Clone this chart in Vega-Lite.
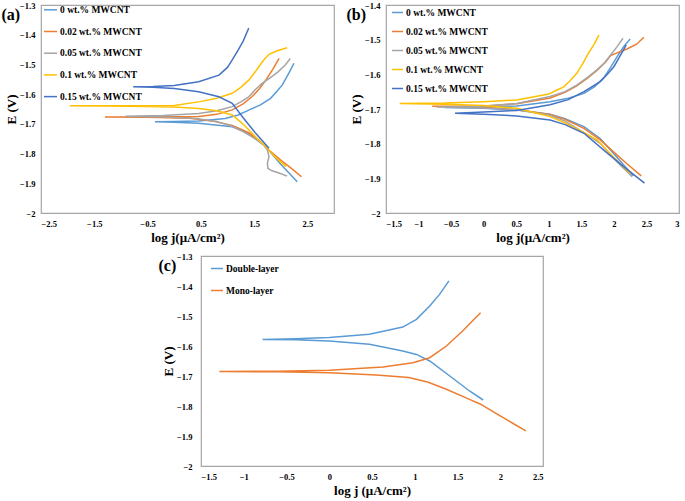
{
  "$schema": "https://vega.github.io/schema/vega-lite/v6.json",
  "padding": {"left": 0, "top": 0, "right": 0, "bottom": 0},
  "background": "white",
  "spacing": 5,
  "config": {
    "view": {"stroke": "#a6a6a6", "strokeWidth": 1.2},
    "axis": {"domain": false, "ticks": false, "grid": false, "labelFont": "Liberation Serif", "labelFontWeight": "bold", "labelFontSize": 8.5, "labelColor": "#000", "titleFont": "Liberation Serif", "titleFontWeight": "bold", "titleFontSize": 13, "titleColor": "#000", "format": ".1~f"},
    "axisX": {"labelPadding": 6, "titlePadding": 4},
    "axisY": {"labelPadding": 6, "titlePadding": 1},
    "legend": {"orient": "none", "symbolType": "stroke", "symbolStrokeWidth": 1.6, "labelFont": "Liberation Serif", "labelFontWeight": "bold", "labelFontSize": 9.5, "labelColor": "#000", "labelOffset": 2, "padding": 0, "labelLimit": 300},
    "title": {"font": "Liberation Serif", "fontWeight": "bold", "fontSize": 16, "anchor": "start", "frame": "bounds", "color": "#000"},
    "line": {"strokeWidth": 1.5}
  },
  "datasets": {
    "a": [
      {"s": "0 wt.% MWCNT", "i": 1, "x": 2.31, "y": -1.895},
      {"s": "0 wt.% MWCNT", "i": 2, "x": 2.0, "y": -1.836},
      {"s": "0 wt.% MWCNT", "i": 3, "x": 1.72, "y": -1.777},
      {"s": "0 wt.% MWCNT", "i": 4, "x": 1.4, "y": -1.732},
      {"s": "0 wt.% MWCNT", "i": 5, "x": 1.09, "y": -1.71},
      {"s": "0 wt.% MWCNT", "i": 6, "x": 0.46, "y": -1.698},
      {"s": "0 wt.% MWCNT", "i": 7, "x": 0.0, "y": -1.695},
      {"s": "0 wt.% MWCNT", "i": 8, "x": -0.36, "y": -1.693},
      {"s": "0 wt.% MWCNT", "i": 9, "x": 0.0, "y": -1.692},
      {"s": "0 wt.% MWCNT", "i": 10, "x": 0.46, "y": -1.69},
      {"s": "0 wt.% MWCNT", "i": 11, "x": 0.96, "y": -1.682},
      {"s": "0 wt.% MWCNT", "i": 12, "x": 1.2, "y": -1.67},
      {"s": "0 wt.% MWCNT", "i": 13, "x": 1.4, "y": -1.654},
      {"s": "0 wt.% MWCNT", "i": 14, "x": 1.62, "y": -1.636},
      {"s": "0 wt.% MWCNT", "i": 15, "x": 1.81, "y": -1.614},
      {"s": "0 wt.% MWCNT", "i": 16, "x": 1.93, "y": -1.59},
      {"s": "0 wt.% MWCNT", "i": 17, "x": 2.03, "y": -1.569},
      {"s": "0 wt.% MWCNT", "i": 18, "x": 2.15, "y": -1.53},
      {"s": "0 wt.% MWCNT", "i": 19, "x": 2.25, "y": -1.496},

      {"s": "0.02 wt.% MWCNT", "i": 1, "x": 2.39, "y": -1.878},
      {"s": "0.02 wt.% MWCNT", "i": 2, "x": 2.2, "y": -1.85},
      {"s": "0.02 wt.% MWCNT", "i": 3, "x": 2.0, "y": -1.822},
      {"s": "0.02 wt.% MWCNT", "i": 4, "x": 1.8, "y": -1.792},
      {"s": "0.02 wt.% MWCNT", "i": 5, "x": 1.59, "y": -1.755},
      {"s": "0.02 wt.% MWCNT", "i": 6, "x": 1.4, "y": -1.73},
      {"s": "0.02 wt.% MWCNT", "i": 7, "x": 1.09, "y": -1.705},
      {"s": "0.02 wt.% MWCNT", "i": 8, "x": 0.7, "y": -1.69},
      {"s": "0.02 wt.% MWCNT", "i": 9, "x": 0.3, "y": -1.681},
      {"s": "0.02 wt.% MWCNT", "i": 10, "x": -0.5, "y": -1.678},
      {"s": "0.02 wt.% MWCNT", "i": 11, "x": -1.3, "y": -1.677},
      {"s": "0.02 wt.% MWCNT", "i": 12, "x": -0.5, "y": -1.677},
      {"s": "0.02 wt.% MWCNT", "i": 13, "x": 0.46, "y": -1.675},
      {"s": "0.02 wt.% MWCNT", "i": 14, "x": 0.8, "y": -1.668},
      {"s": "0.02 wt.% MWCNT", "i": 15, "x": 1.09, "y": -1.653},
      {"s": "0.02 wt.% MWCNT", "i": 16, "x": 1.3, "y": -1.632},
      {"s": "0.02 wt.% MWCNT", "i": 17, "x": 1.46, "y": -1.609},
      {"s": "0.02 wt.% MWCNT", "i": 18, "x": 1.6, "y": -1.582},
      {"s": "0.02 wt.% MWCNT", "i": 19, "x": 1.72, "y": -1.553},
      {"s": "0.02 wt.% MWCNT", "i": 20, "x": 1.85, "y": -1.517},
      {"s": "0.02 wt.% MWCNT", "i": 21, "x": 1.97, "y": -1.48},

      {"s": "0.05 wt.% MWCNT", "i": 1, "x": 2.12, "y": -1.876},
      {"s": "0.05 wt.% MWCNT", "i": 2, "x": 1.98, "y": -1.866},
      {"s": "0.05 wt.% MWCNT", "i": 3, "x": 1.84, "y": -1.858},
      {"s": "0.05 wt.% MWCNT", "i": 4, "x": 1.76, "y": -1.85},
      {"s": "0.05 wt.% MWCNT", "i": 5, "x": 1.75, "y": -1.833},
      {"s": "0.05 wt.% MWCNT", "i": 6, "x": 1.78, "y": -1.81},
      {"s": "0.05 wt.% MWCNT", "i": 7, "x": 1.75, "y": -1.788},
      {"s": "0.05 wt.% MWCNT", "i": 8, "x": 1.68, "y": -1.771},
      {"s": "0.05 wt.% MWCNT", "i": 9, "x": 1.5, "y": -1.748},
      {"s": "0.05 wt.% MWCNT", "i": 10, "x": 1.3, "y": -1.727},
      {"s": "0.05 wt.% MWCNT", "i": 11, "x": 1.09, "y": -1.708},
      {"s": "0.05 wt.% MWCNT", "i": 12, "x": 0.8, "y": -1.692},
      {"s": "0.05 wt.% MWCNT", "i": 13, "x": 0.4, "y": -1.682},
      {"s": "0.05 wt.% MWCNT", "i": 14, "x": -0.2, "y": -1.677},
      {"s": "0.05 wt.% MWCNT", "i": 15, "x": -0.92, "y": -1.674},
      {"s": "0.05 wt.% MWCNT", "i": 16, "x": -0.2, "y": -1.672},
      {"s": "0.05 wt.% MWCNT", "i": 17, "x": 0.46, "y": -1.665},
      {"s": "0.05 wt.% MWCNT", "i": 18, "x": 0.8, "y": -1.656},
      {"s": "0.05 wt.% MWCNT", "i": 19, "x": 1.09, "y": -1.642},
      {"s": "0.05 wt.% MWCNT", "i": 20, "x": 1.25, "y": -1.626},
      {"s": "0.05 wt.% MWCNT", "i": 21, "x": 1.4, "y": -1.609},
      {"s": "0.05 wt.% MWCNT", "i": 22, "x": 1.52, "y": -1.585},
      {"s": "0.05 wt.% MWCNT", "i": 23, "x": 1.65, "y": -1.564},
      {"s": "0.05 wt.% MWCNT", "i": 24, "x": 1.8, "y": -1.545},
      {"s": "0.05 wt.% MWCNT", "i": 25, "x": 1.95, "y": -1.525},
      {"s": "0.05 wt.% MWCNT", "i": 26, "x": 2.08, "y": -1.503},
      {"s": "0.05 wt.% MWCNT", "i": 27, "x": 2.18, "y": -1.48},

      {"s": "0.1 wt.% MWCNT", "i": 1, "x": 2.1, "y": -1.844},
      {"s": "0.1 wt.% MWCNT", "i": 2, "x": 1.9, "y": -1.812},
      {"s": "0.1 wt.% MWCNT", "i": 3, "x": 1.72, "y": -1.777},
      {"s": "0.1 wt.% MWCNT", "i": 4, "x": 1.55, "y": -1.748},
      {"s": "0.1 wt.% MWCNT", "i": 5, "x": 1.4, "y": -1.72},
      {"s": "0.1 wt.% MWCNT", "i": 6, "x": 1.25, "y": -1.694},
      {"s": "0.1 wt.% MWCNT", "i": 7, "x": 1.09, "y": -1.67},
      {"s": "0.1 wt.% MWCNT", "i": 8, "x": 0.8, "y": -1.656},
      {"s": "0.1 wt.% MWCNT", "i": 9, "x": 0.46, "y": -1.648},
      {"s": "0.1 wt.% MWCNT", "i": 10, "x": 0.0, "y": -1.643},
      {"s": "0.1 wt.% MWCNT", "i": 11, "x": -0.8, "y": -1.641},
      {"s": "0.1 wt.% MWCNT", "i": 12, "x": -1.96, "y": -1.639},
      {"s": "0.1 wt.% MWCNT", "i": 13, "x": -0.8, "y": -1.639},
      {"s": "0.1 wt.% MWCNT", "i": 14, "x": 0.0, "y": -1.638},
      {"s": "0.1 wt.% MWCNT", "i": 15, "x": 0.46, "y": -1.626},
      {"s": "0.1 wt.% MWCNT", "i": 16, "x": 0.8, "y": -1.614},
      {"s": "0.1 wt.% MWCNT", "i": 17, "x": 1.09, "y": -1.597},
      {"s": "0.1 wt.% MWCNT", "i": 18, "x": 1.25, "y": -1.577},
      {"s": "0.1 wt.% MWCNT", "i": 19, "x": 1.4, "y": -1.553},
      {"s": "0.1 wt.% MWCNT", "i": 20, "x": 1.55, "y": -1.518},
      {"s": "0.1 wt.% MWCNT", "i": 21, "x": 1.68, "y": -1.485},
      {"s": "0.1 wt.% MWCNT", "i": 22, "x": 1.78, "y": -1.466},
      {"s": "0.1 wt.% MWCNT", "i": 23, "x": 1.92, "y": -1.455},
      {"s": "0.1 wt.% MWCNT", "i": 24, "x": 2.12, "y": -1.444},

      {"s": "0.15 wt.% MWCNT", "i": 1, "x": 1.78, "y": -1.782},
      {"s": "0.15 wt.% MWCNT", "i": 2, "x": 1.53, "y": -1.732},
      {"s": "0.15 wt.% MWCNT", "i": 3, "x": 1.28, "y": -1.676},
      {"s": "0.15 wt.% MWCNT", "i": 4, "x": 1.09, "y": -1.631},
      {"s": "0.15 wt.% MWCNT", "i": 5, "x": 0.84, "y": -1.609},
      {"s": "0.15 wt.% MWCNT", "i": 6, "x": 0.46, "y": -1.592},
      {"s": "0.15 wt.% MWCNT", "i": 7, "x": 0.0, "y": -1.581},
      {"s": "0.15 wt.% MWCNT", "i": 8, "x": -0.4, "y": -1.577},
      {"s": "0.15 wt.% MWCNT", "i": 9, "x": -0.77, "y": -1.575},
      {"s": "0.15 wt.% MWCNT", "i": 10, "x": -0.4, "y": -1.574},
      {"s": "0.15 wt.% MWCNT", "i": 11, "x": 0.0, "y": -1.571},
      {"s": "0.15 wt.% MWCNT", "i": 12, "x": 0.46, "y": -1.558},
      {"s": "0.15 wt.% MWCNT", "i": 13, "x": 0.84, "y": -1.536},
      {"s": "0.15 wt.% MWCNT", "i": 14, "x": 1.0, "y": -1.51},
      {"s": "0.15 wt.% MWCNT", "i": 15, "x": 1.09, "y": -1.485},
      {"s": "0.15 wt.% MWCNT", "i": 16, "x": 1.2, "y": -1.452},
      {"s": "0.15 wt.% MWCNT", "i": 17, "x": 1.3, "y": -1.42},
      {"s": "0.15 wt.% MWCNT", "i": 18, "x": 1.37, "y": -1.39},
      {"s": "0.15 wt.% MWCNT", "i": 19, "x": 1.4, "y": -1.378}
    ],
    "b": [
      {"s": "0 wt.% MWCNT", "i": 1, "x": 2.3, "y": -1.893},
      {"s": "0 wt.% MWCNT", "i": 2, "x": 2.05, "y": -1.84},
      {"s": "0 wt.% MWCNT", "i": 3, "x": 1.79, "y": -1.785},
      {"s": "0 wt.% MWCNT", "i": 4, "x": 1.54, "y": -1.751},
      {"s": "0 wt.% MWCNT", "i": 5, "x": 1.25, "y": -1.728},
      {"s": "0 wt.% MWCNT", "i": 6, "x": 1.02, "y": -1.715},
      {"s": "0 wt.% MWCNT", "i": 7, "x": 0.51, "y": -1.703},
      {"s": "0 wt.% MWCNT", "i": 8, "x": 0.0, "y": -1.698},
      {"s": "0 wt.% MWCNT", "i": 9, "x": -0.6, "y": -1.696},
      {"s": "0 wt.% MWCNT", "i": 10, "x": 0.0, "y": -1.694},
      {"s": "0 wt.% MWCNT", "i": 11, "x": 0.51, "y": -1.691},
      {"s": "0 wt.% MWCNT", "i": 12, "x": 1.02, "y": -1.679},
      {"s": "0 wt.% MWCNT", "i": 13, "x": 1.3, "y": -1.669},
      {"s": "0 wt.% MWCNT", "i": 14, "x": 1.54, "y": -1.655},
      {"s": "0 wt.% MWCNT", "i": 15, "x": 1.7, "y": -1.636},
      {"s": "0 wt.% MWCNT", "i": 16, "x": 1.84, "y": -1.611},
      {"s": "0 wt.% MWCNT", "i": 17, "x": 1.95, "y": -1.58},
      {"s": "0 wt.% MWCNT", "i": 18, "x": 2.05, "y": -1.549},
      {"s": "0 wt.% MWCNT", "i": 19, "x": 2.15, "y": -1.52},
      {"s": "0 wt.% MWCNT", "i": 20, "x": 2.25, "y": -1.498},

      {"s": "0.02 wt.% MWCNT", "i": 1, "x": 2.42, "y": -1.893},
      {"s": "0.02 wt.% MWCNT", "i": 2, "x": 2.2, "y": -1.858},
      {"s": "0.02 wt.% MWCNT", "i": 3, "x": 2.05, "y": -1.833},
      {"s": "0.02 wt.% MWCNT", "i": 4, "x": 1.79, "y": -1.789},
      {"s": "0.02 wt.% MWCNT", "i": 5, "x": 1.54, "y": -1.756},
      {"s": "0.02 wt.% MWCNT", "i": 6, "x": 1.25, "y": -1.73},
      {"s": "0.02 wt.% MWCNT", "i": 7, "x": 1.02, "y": -1.716},
      {"s": "0.02 wt.% MWCNT", "i": 8, "x": 0.51, "y": -1.702},
      {"s": "0.02 wt.% MWCNT", "i": 9, "x": 0.0, "y": -1.695},
      {"s": "0.02 wt.% MWCNT", "i": 10, "x": -0.79, "y": -1.692},
      {"s": "0.02 wt.% MWCNT", "i": 11, "x": 0.0, "y": -1.691},
      {"s": "0.02 wt.% MWCNT", "i": 12, "x": 0.51, "y": -1.685},
      {"s": "0.02 wt.% MWCNT", "i": 13, "x": 1.02, "y": -1.668},
      {"s": "0.02 wt.% MWCNT", "i": 14, "x": 1.25, "y": -1.652},
      {"s": "0.02 wt.% MWCNT", "i": 15, "x": 1.43, "y": -1.633},
      {"s": "0.02 wt.% MWCNT", "i": 16, "x": 1.6, "y": -1.61},
      {"s": "0.02 wt.% MWCNT", "i": 17, "x": 1.74, "y": -1.589},
      {"s": "0.02 wt.% MWCNT", "i": 18, "x": 1.87, "y": -1.565},
      {"s": "0.02 wt.% MWCNT", "i": 19, "x": 1.95, "y": -1.546},
      {"s": "0.02 wt.% MWCNT", "i": 20, "x": 2.05, "y": -1.538},
      {"s": "0.02 wt.% MWCNT", "i": 21, "x": 2.2, "y": -1.527},
      {"s": "0.02 wt.% MWCNT", "i": 22, "x": 2.35, "y": -1.513},
      {"s": "0.02 wt.% MWCNT", "i": 23, "x": 2.46, "y": -1.493},

      {"s": "0.05 wt.% MWCNT", "i": 1, "x": 2.28, "y": -1.895},
      {"s": "0.05 wt.% MWCNT", "i": 2, "x": 2.05, "y": -1.853},
      {"s": "0.05 wt.% MWCNT", "i": 3, "x": 1.79, "y": -1.799},
      {"s": "0.05 wt.% MWCNT", "i": 4, "x": 1.54, "y": -1.768},
      {"s": "0.05 wt.% MWCNT", "i": 5, "x": 1.25, "y": -1.735},
      {"s": "0.05 wt.% MWCNT", "i": 6, "x": 1.02, "y": -1.718},
      {"s": "0.05 wt.% MWCNT", "i": 7, "x": 0.51, "y": -1.702},
      {"s": "0.05 wt.% MWCNT", "i": 8, "x": 0.0, "y": -1.697},
      {"s": "0.05 wt.% MWCNT", "i": 9, "x": -0.72, "y": -1.694},
      {"s": "0.05 wt.% MWCNT", "i": 10, "x": 0.0, "y": -1.692},
      {"s": "0.05 wt.% MWCNT", "i": 11, "x": 0.51, "y": -1.684},
      {"s": "0.05 wt.% MWCNT", "i": 12, "x": 1.02, "y": -1.664},
      {"s": "0.05 wt.% MWCNT", "i": 13, "x": 1.25, "y": -1.65},
      {"s": "0.05 wt.% MWCNT", "i": 14, "x": 1.43, "y": -1.631},
      {"s": "0.05 wt.% MWCNT", "i": 15, "x": 1.6, "y": -1.608},
      {"s": "0.05 wt.% MWCNT", "i": 16, "x": 1.74, "y": -1.587},
      {"s": "0.05 wt.% MWCNT", "i": 17, "x": 1.86, "y": -1.566},
      {"s": "0.05 wt.% MWCNT", "i": 18, "x": 1.95, "y": -1.544},
      {"s": "0.05 wt.% MWCNT", "i": 19, "x": 2.05, "y": -1.52},
      {"s": "0.05 wt.% MWCNT", "i": 20, "x": 2.14, "y": -1.496},

      {"s": "0.1 wt.% MWCNT", "i": 1, "x": 2.25, "y": -1.886},
      {"s": "0.1 wt.% MWCNT", "i": 2, "x": 2.0, "y": -1.84},
      {"s": "0.1 wt.% MWCNT", "i": 3, "x": 1.74, "y": -1.789},
      {"s": "0.1 wt.% MWCNT", "i": 4, "x": 1.54, "y": -1.768},
      {"s": "0.1 wt.% MWCNT", "i": 5, "x": 1.25, "y": -1.74},
      {"s": "0.1 wt.% MWCNT", "i": 6, "x": 1.02, "y": -1.722},
      {"s": "0.1 wt.% MWCNT", "i": 7, "x": 0.51, "y": -1.698},
      {"s": "0.1 wt.% MWCNT", "i": 8, "x": 0.0, "y": -1.69},
      {"s": "0.1 wt.% MWCNT", "i": 9, "x": -0.6, "y": -1.686},
      {"s": "0.1 wt.% MWCNT", "i": 10, "x": -1.29, "y": -1.684},
      {"s": "0.1 wt.% MWCNT", "i": 11, "x": -0.6, "y": -1.683},
      {"s": "0.1 wt.% MWCNT", "i": 12, "x": 0.0, "y": -1.679},
      {"s": "0.1 wt.% MWCNT", "i": 13, "x": 0.51, "y": -1.674},
      {"s": "0.1 wt.% MWCNT", "i": 14, "x": 1.0, "y": -1.657},
      {"s": "0.1 wt.% MWCNT", "i": 15, "x": 1.12, "y": -1.646},
      {"s": "0.1 wt.% MWCNT", "i": 16, "x": 1.23, "y": -1.636},
      {"s": "0.1 wt.% MWCNT", "i": 17, "x": 1.33, "y": -1.618},
      {"s": "0.1 wt.% MWCNT", "i": 18, "x": 1.43, "y": -1.597},
      {"s": "0.1 wt.% MWCNT", "i": 19, "x": 1.52, "y": -1.57},
      {"s": "0.1 wt.% MWCNT", "i": 20, "x": 1.61, "y": -1.539},
      {"s": "0.1 wt.% MWCNT", "i": 21, "x": 1.7, "y": -1.512},
      {"s": "0.1 wt.% MWCNT", "i": 22, "x": 1.77, "y": -1.487},

      {"s": "0.15 wt.% MWCNT", "i": 1, "x": 2.47, "y": -1.914},
      {"s": "0.15 wt.% MWCNT", "i": 2, "x": 2.15, "y": -1.866},
      {"s": "0.15 wt.% MWCNT", "i": 3, "x": 1.84, "y": -1.818},
      {"s": "0.15 wt.% MWCNT", "i": 4, "x": 1.54, "y": -1.77},
      {"s": "0.15 wt.% MWCNT", "i": 5, "x": 1.25, "y": -1.745},
      {"s": "0.15 wt.% MWCNT", "i": 6, "x": 1.02, "y": -1.732},
      {"s": "0.15 wt.% MWCNT", "i": 7, "x": 0.51, "y": -1.72},
      {"s": "0.15 wt.% MWCNT", "i": 8, "x": 0.0, "y": -1.715},
      {"s": "0.15 wt.% MWCNT", "i": 9, "x": -0.44, "y": -1.712},
      {"s": "0.15 wt.% MWCNT", "i": 10, "x": 0.0, "y": -1.709},
      {"s": "0.15 wt.% MWCNT", "i": 11, "x": 0.51, "y": -1.704},
      {"s": "0.15 wt.% MWCNT", "i": 12, "x": 1.02, "y": -1.688},
      {"s": "0.15 wt.% MWCNT", "i": 13, "x": 1.3, "y": -1.673},
      {"s": "0.15 wt.% MWCNT", "i": 14, "x": 1.54, "y": -1.65},
      {"s": "0.15 wt.% MWCNT", "i": 15, "x": 1.79, "y": -1.621},
      {"s": "0.15 wt.% MWCNT", "i": 16, "x": 1.9, "y": -1.6},
      {"s": "0.15 wt.% MWCNT", "i": 17, "x": 2.0, "y": -1.578},
      {"s": "0.15 wt.% MWCNT", "i": 18, "x": 2.1, "y": -1.545},
      {"s": "0.15 wt.% MWCNT", "i": 19, "x": 2.19, "y": -1.515}
    ],
    "c": [
      {"s": "Double-layer", "i": 1, "x": 1.8, "y": -1.78},
      {"s": "Double-layer", "i": 2, "x": 1.64, "y": -1.75},
      {"s": "Double-layer", "i": 3, "x": 1.41, "y": -1.7},
      {"s": "Double-layer", "i": 4, "x": 1.175, "y": -1.65},
      {"s": "Double-layer", "i": 5, "x": 1.02, "y": -1.628},
      {"s": "Double-layer", "i": 6, "x": 0.86, "y": -1.617},
      {"s": "Double-layer", "i": 7, "x": 0.47, "y": -1.594},
      {"s": "Double-layer", "i": 8, "x": 0.0, "y": -1.583},
      {"s": "Double-layer", "i": 9, "x": -0.4, "y": -1.579},
      {"s": "Double-layer", "i": 10, "x": -0.78, "y": -1.578},
      {"s": "Double-layer", "i": 11, "x": -0.4, "y": -1.576},
      {"s": "Double-layer", "i": 12, "x": 0.0, "y": -1.572},
      {"s": "Double-layer", "i": 13, "x": 0.47, "y": -1.561},
      {"s": "Double-layer", "i": 14, "x": 0.86, "y": -1.537},
      {"s": "Double-layer", "i": 15, "x": 1.02, "y": -1.511},
      {"s": "Double-layer", "i": 16, "x": 1.175, "y": -1.467},
      {"s": "Double-layer", "i": 17, "x": 1.29, "y": -1.428},
      {"s": "Double-layer", "i": 18, "x": 1.4, "y": -1.383},

      {"s": "Mono-layer", "i": 1, "x": 2.3, "y": -1.883},
      {"s": "Mono-layer", "i": 2, "x": 2.16, "y": -1.86},
      {"s": "Mono-layer", "i": 3, "x": 1.96, "y": -1.826},
      {"s": "Mono-layer", "i": 4, "x": 1.77, "y": -1.794},
      {"s": "Mono-layer", "i": 5, "x": 1.64, "y": -1.778},
      {"s": "Mono-layer", "i": 6, "x": 1.37, "y": -1.744},
      {"s": "Mono-layer", "i": 7, "x": 1.15, "y": -1.72},
      {"s": "Mono-layer", "i": 8, "x": 0.93, "y": -1.705},
      {"s": "Mono-layer", "i": 9, "x": 0.55, "y": -1.697},
      {"s": "Mono-layer", "i": 10, "x": 0.0, "y": -1.689},
      {"s": "Mono-layer", "i": 11, "x": -0.6, "y": -1.686},
      {"s": "Mono-layer", "i": 12, "x": -1.285, "y": -1.685},
      {"s": "Mono-layer", "i": 13, "x": -0.6, "y": -1.684},
      {"s": "Mono-layer", "i": 14, "x": 0.0, "y": -1.681},
      {"s": "Mono-layer", "i": 15, "x": 0.63, "y": -1.67},
      {"s": "Mono-layer", "i": 16, "x": 0.98, "y": -1.656},
      {"s": "Mono-layer", "i": 17, "x": 1.175, "y": -1.639},
      {"s": "Mono-layer", "i": 18, "x": 1.37, "y": -1.6},
      {"s": "Mono-layer", "i": 19, "x": 1.56, "y": -1.55},
      {"s": "Mono-layer", "i": 20, "x": 1.68, "y": -1.515},
      {"s": "Mono-layer", "i": 21, "x": 1.77, "y": -1.489}
    ]
  },
  "vconcat": [
    {
      "hconcat": [
        {
          "width": 293, "height": 208,
          "title": {"text": "(a)", "offset": -22, "dx": -4},
          "data": {"name": "a"},
          "mark": {"type": "line", "clip": true},
          "encoding": {
            "x": {"field": "x", "type": "quantitative", "scale": {"domain": [-2.5, 3], "nice": false, "zero": false},
                  "axis": {"title": "log j(μA/cm²)", "values": [-2.5, -1.5, -0.5, 0.5, 1.5, 2.5]}},
            "y": {"field": "y", "type": "quantitative", "scale": {"domain": [-2, -1.3], "nice": false, "zero": false},
                  "axis": {"title": "E (V)", "values": [-2, -1.9, -1.8, -1.7, -1.6, -1.5, -1.4, -1.3]}},
            "color": {"field": "s", "type": "nominal",
                      "scale": {"domain": ["0 wt.% MWCNT", "0.02 wt.% MWCNT", "0.05 wt.% MWCNT", "0.1 wt.% MWCNT", "0.15 wt.% MWCNT"], "range": ["#5B9BD5", "#ED7D31", "#A5A5A5", "#FFC000", "#4472C4"]},
                      "legend": {"title": null, "legendX": 2, "legendY": -2.7, "symbolSize": 169, "rowPadding": 9.7}},
            "order": {"field": "i", "type": "quantitative"}
          }
        },
        {
          "width": 293, "height": 208,
          "title": {"text": "(b)", "offset": -22, "dx": -4},
          "data": {"name": "b"},
          "mark": {"type": "line", "clip": true},
          "encoding": {
            "x": {"field": "x", "type": "quantitative", "scale": {"domain": [-1.5, 3], "nice": false, "zero": false},
                  "axis": {"title": "log j(μA/cm²)", "values": [-1.5, -1, -0.5, 0, 0.5, 1, 1.5, 2, 2.5, 3]}},
            "y": {"field": "y", "type": "quantitative", "scale": {"domain": [-2, -1.4], "nice": false, "zero": false},
                  "axis": {"title": "E (V)", "values": [-2, -1.9, -1.8, -1.7, -1.6, -1.5, -1.4]}},
            "color": {"field": "s", "type": "nominal",
                      "scale": {"domain": ["0 wt.% MWCNT", "0.02 wt.% MWCNT", "0.05 wt.% MWCNT", "0.1 wt.% MWCNT", "0.15 wt.% MWCNT"], "range": ["#5B9BD5", "#ED7D31", "#A5A5A5", "#FFC000", "#4472C4"]},
                      "legend": {"title": null, "legendX": 5, "legendY": 1, "symbolSize": 121, "rowPadding": 8}},
            "order": {"field": "i", "type": "quantitative"}
          }
        }
      ],
      "spacing": 10,
      "resolve": {"scale": {"color": "independent", "x": "independent", "y": "independent"}, "legend": {"color": "independent"}}
    },
    {
      "hconcat": [
        {
          "width": 116, "height": 10,
          "view": {"stroke": null, "fill": null},
          "data": {"values": []},
          "mark": "point"
        },
        {
          "width": 342, "height": 210,
          "title": {"text": "(c)", "offset": -22, "dx": -4},
          "data": {"name": "c"},
          "mark": {"type": "line", "clip": true},
          "encoding": {
            "x": {"field": "x", "type": "quantitative", "scale": {"domain": [-1.5, 2.5], "nice": false, "zero": false},
                  "axis": {"title": "log j (μA/cm²)", "values": [-1.5, -1, -0.5, 0, 0.5, 1, 1.5, 2, 2.5]}},
            "y": {"field": "y", "type": "quantitative", "scale": {"domain": [-2, -1.3], "nice": false, "zero": false},
                  "axis": {"title": "E (V)", "values": [-2, -1.9, -1.8, -1.7, -1.6, -1.5, -1.4, -1.3], "labelPadding": 9}},
            "color": {"field": "s", "type": "nominal",
                      "scale": {"domain": ["Double-layer", "Mono-layer"], "range": ["#5B9BD5", "#ED7D31"]},
                      "legend": {"title": null, "legendX": 9, "legendY": 5.5, "symbolSize": 144, "rowPadding": 10}},
            "order": {"field": "i", "type": "quantitative"}
          }
        }
      ],
      "spacing": 0,
      "resolve": {"scale": {"color": "independent", "x": "independent", "y": "independent"}, "legend": {"color": "independent"}}
    }
  ],
  "resolve": {"scale": {"color": "independent", "x": "independent", "y": "independent"}, "legend": {"color": "independent"}}
}
